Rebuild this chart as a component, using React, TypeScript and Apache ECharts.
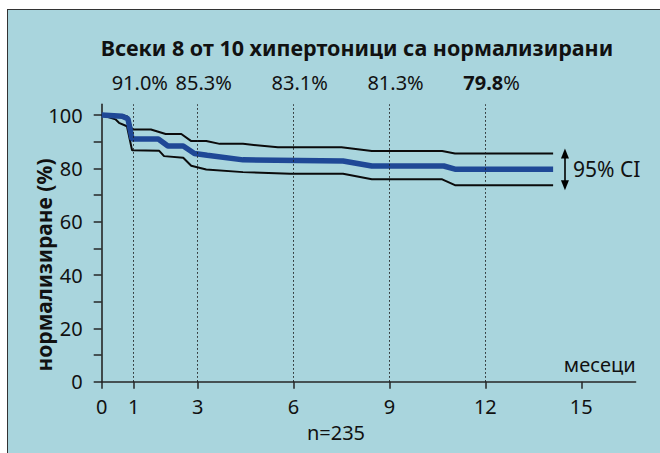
import React, { useEffect, useRef } from 'react';
import * as echarts from 'echarts';

const FONT = "'Noto Sans', sans-serif";

// Kaplan-Meier style curves (months, % normalised)
const upperMonths = [0, 0.64, 0.8, 0.95, 1.54, 2.0, 2.49, 2.79, 3.27, 3.69, 4.42, 5.51, 7.5, 8.45, 10.65, 11.05, 14.12];
const upperValues = [100, 100, 99.5, 94.6, 94.6, 92.9, 92.9, 90.3, 90.3, 89.2, 89.2, 87.9, 87.9, 86.5, 86.5, 85.6, 85.6];

const meanMonths = [0, 0.64, 0.82, 0.95, 1.77, 2.07, 2.55, 2.9, 3.3, 4.42, 7.55, 8.45, 10.7, 11.05, 14.12];
const meanValues = [100, 99.6, 98.6, 91.0, 91.0, 88.4, 88.4, 85.6, 84.9, 83.2, 82.8, 80.9, 80.9, 79.7, 79.7];

const lowerMonths = [0, 0.43, 0.54, 0.79, 0.95, 1.8, 1.95, 2.55, 2.8, 3.27, 4.42, 5.9, 7.55, 8.45, 10.65, 11.05, 14.12];
const lowerValues = [100, 98.4, 97.1, 95.8, 86.8, 86.6, 84.6, 84.0, 81.0, 79.6, 78.6, 78.0, 78.0, 75.9, 75.9, 73.7, 73.7];

const milestoneMonths = [1, 3, 6, 9, 12];
const milestonePct = [91.0, 85.3, 83.1, 81.3, 79.8];

const xTicks = [0, 1, 3, 6, 9, 12, 15];
const yTicks = [0, 10, 20, 30, 40, 50, 60, 70, 80, 90, 100];
const yLabels = [0, 20, 40, 60, 80, 100];

const titleText = 'Всеки 8 от 10 хипертоници са нормализирани';
const xName = 'месеци';
const yName = 'нормализиране (%)';
const nText = 'n=235';
const ciText = '95% CI';

const zip = (xs: number[], ys: number[]) => xs.map((x, i) => [x, ys[i]]);

export default function App() {
  const ref = useRef<HTMLDivElement>(null);

  useEffect(() => {
    document.body.style.margin = '0';
    const chart = echarts.init(ref.current!, null, { renderer: 'svg' });
    const ink = '#111111';
    const axisColor = '#262626';
    const upperLast = upperValues[upperValues.length - 1];
    const lowerLast = lowerValues[lowerValues.length - 1];
    const arrowMonth = upperMonths[upperMonths.length - 1] + 0.37;

    const option: any = {
      animation: false,
      textStyle: { fontFamily: FONT },
      grid: { left: 101.7, right: 24.4, top: 104.4, bottom: 71.3, containLabel: false, outerBoundsMode: 'none' },
      xAxis: {
        type: 'value',
        min: 0,
        max: 16.7,
        name: xName,
        nameLocation: 'end',
        nameGap: 0,
        nameMoveOverlap: false,
        nameTextStyle: { color: ink, fontSize: 20, fontFamily: FONT, align: 'right', verticalAlign: 'bottom', padding: [0, 0, 7, 0] },
        axisLine: { show: true, onZero: false, lineStyle: { color: axisColor, width: 1.6 } },
        axisTick: { show: true, inside: false, length: 7, customValues: xTicks, lineStyle: { color: axisColor, width: 1.5 } },
        axisLabel: { show: true, customValues: xTicks, margin: 15, color: ink, fontSize: 20, fontFamily: FONT, hideOverlap: false },
        splitLine: { show: false },
      },
      yAxis: {
        type: 'value',
        min: 0,
        max: 104,
        axisLine: { show: true, onZero: false, lineStyle: { color: axisColor, width: 1.6 } },
        axisTick: { show: true, inside: false, length: 8, customValues: yTicks, lineStyle: { color: axisColor, width: 1.5 } },
        axisLabel: { show: true, customValues: yLabels, margin: 19, color: ink, fontSize: 20, fontFamily: FONT, hideOverlap: false },
        splitLine: { show: false },
      },
      series: [
        {
          type: 'line',
          data: zip(lowerMonths, lowerValues),
          symbol: 'none',
          showSymbol: false,
          silent: true,
          z: 3,
          lineStyle: { color: '#0b0b0b', width: 2 },
          markLine: {
            silent: true,
            symbol: 'none',
            label: { show: false },
            lineStyle: { color: '#1a1a1a', width: 1, type: [1.5, 2.5] },
            data: milestoneMonths.map((m) => ({ xAxis: m })),
          },
        },
        {
          type: 'line',
          data: zip(upperMonths, upperValues),
          symbol: 'none',
          showSymbol: false,
          silent: true,
          z: 3,
          lineStyle: { color: '#0b0b0b', width: 2 },
          markLine: {
            silent: true,
            symbol: ['triangle', 'triangle'],
            symbolSize: [8, 10],
            label: { show: false },
            lineStyle: { color: '#000000', width: 1.6, type: 'solid' },
            data: [[{ coord: [arrowMonth, upperLast] }, { coord: [arrowMonth, lowerLast] }]],
          },
        },
        {
          type: 'line',
          data: zip(meanMonths, meanValues),
          symbol: 'none',
          showSymbol: false,
          silent: true,
          z: 4,
          lineStyle: { color: '#1f4896', width: 5.5 },
        },
      ],
    };
    chart.setOption(option);

    const px = (m: number, v: number) => chart.convertToPixel({ gridIndex: 0 }, [m, v]) as number[];
    const textBase = { fill: ink, fontFamily: FONT, fontSize: 20 };
    const graphics: any[] = [
      {
        type: 'text',
        x: 357,
        y: 47,
        style: { ...textBase, text: titleText, fontSize: 21.5, fontWeight: 'bold', align: 'center', verticalAlign: 'middle' },
      },
      {
        type: 'text',
        x: 44,
        y: 265,
        rotation: Math.PI / 2,
        style: { ...textBase, text: yName, fontSize: 21, fontWeight: 'bold', align: 'center', verticalAlign: 'middle' },
      },
      {
        type: 'text',
        x: 336,
        y: 432,
        style: { ...textBase, text: nText, align: 'center', verticalAlign: 'middle' },
      },
    ];
    milestoneMonths.forEach((m, i) => {
      const isLast = i === milestoneMonths.length - 1;
      const val = milestonePct[i].toFixed(1);
      graphics.push({
        type: 'text',
        x: px(m, 0)[0] - 22,
        y: 82,
        style: {
          ...textBase,
          text: isLast ? `{b|${val}}%` : `${val}%`,
          align: 'left',
          verticalAlign: 'middle',
          rich: { b: { fontWeight: 'bold', fontSize: 20, fontFamily: FONT, fill: ink } },
        },
      });
    });
    const ciPos = px(arrowMonth, (upperLast + lowerLast) / 2);
    graphics.push({
      type: 'text',
      x: ciPos[0] + 8,
      y: ciPos[1],
      style: { ...textBase, text: ciText, fontSize: 21, align: 'left', verticalAlign: 'middle' },
    });
    chart.setOption({ graphic: graphics });

    return () => chart.dispose();
  }, []);

  return (
    <div style={{ position: 'relative', width: 660, height: 453, background: '#ffffff', overflow: 'hidden' }}>
      <div
        style={{
          position: 'absolute',
          left: 6.5,
          top: 9.3,
          width: 720,
          height: 520,
          background: '#a9d5dd',
          border: '1.5px solid #333333',
          boxSizing: 'border-box',
        }}
      />
      <div ref={ref} style={{ position: 'absolute', left: 0, top: 0, width: 660, height: 453 }} />
    </div>
  );
}
